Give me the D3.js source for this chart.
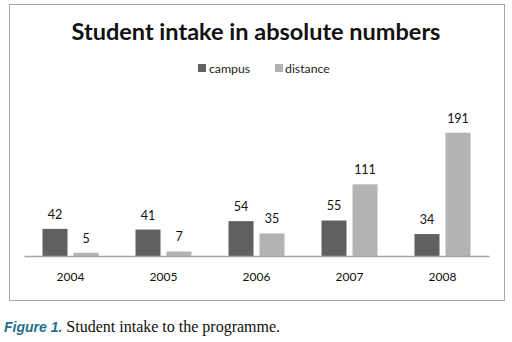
<!DOCTYPE html>
<html><head><meta charset="utf-8">
<script src="https://cdn.jsdelivr.net/npm/d3@7"></script>
<style>body{margin:0;background:#fff;}svg{display:block;}</style>
</head><body>
<svg id="c" width="512" height="342"></svg>
<script>
const years = ["2004","2005","2006","2007","2008"];
const campus = [42, 41, 54, 55, 34];
const distance = [5, 7, 35, 111, 191];
const seriesNames = ["campus","distance"];
const colors = ["#606060","#b3b3b3"];

const svg = d3.select("#c");
const font = "Lato, 'Open Sans', sans-serif";

svg.append("rect").attr("x",9.5).attr("y",4.5).attr("width",495).attr("height",296)
  .attr("fill","#fff").attr("stroke","#a6a6a6").attr("stroke-width",1);

svg.append("text").attr("x",256).attr("y",40).attr("text-anchor","middle")
  .attr("font-family",font).attr("font-weight","bold").attr("font-size",23.5)
  .attr("fill","#111").text("Student intake in absolute numbers");

// legend
const lg = [{x:198, tx:209},{x:275, tx:285}];
seriesNames.forEach((n,i)=>{
  svg.append("rect").attr("x",lg[i].x).attr("y",64).attr("width",8).attr("height",8).attr("fill",colors[i]);
  svg.append("text").attr("x",lg[i].tx).attr("y",72.5).attr("font-family",font).attr("font-size",12.3)
    .attr("fill","#222").text(n);
});

const x0 = d3.scaleBand().domain(years).range([24,489]).paddingInner(0).paddingOuter(0);
const y = d3.scaleLinear().domain([0,191]).range([256,132.7]);
const barW = 25, gap = 6;

const data = years.map((yr,i)=>({yr, vals:[campus[i], distance[i]]}));
const g = svg.append("g");
data.forEach(d=>{
  const cx = x0(d.yr) + x0.bandwidth()/2;
  d.vals.forEach((v,j)=>{
    const bx = cx - (barW*2+gap)/2 + j*(barW+gap);
    g.append("rect").attr("x",bx).attr("y",y(v)).attr("width",barW).attr("height",256-y(v)).attr("fill",colors[j]);
    g.append("text").attr("x",bx+barW/2).attr("y",y(v)-10).attr("text-anchor","middle")
      .attr("font-family",font).attr("font-size",12.5).attr("fill","#111").text(v);
  });
});

// axis
const axis = d3.axisBottom(x0).tickSize(0).tickPadding(16);
const ag = svg.append("g").attr("transform","translate(0,256)").call(axis);
ag.select(".domain").attr("stroke","#a6a6a6").attr("stroke-width",1.5);
ag.selectAll("text").attr("font-family",font).attr("font-size",12).attr("fill","#111");

// caption
const cap = svg.append("text").attr("x",4).attr("y",332);
cap.append("tspan").attr("font-family","'Liberation Sans', Arial, sans-serif").attr("font-style","italic")
  .attr("font-weight","bold").attr("font-size",14).attr("fill","#1f6f8b").text("Figure 1.");
cap.append("tspan").attr("font-family","'Liberation Serif', 'Times New Roman', serif")
  .attr("font-size",16).attr("fill","#111").text(" Student intake to the programme.");
</script>
</body></html>
